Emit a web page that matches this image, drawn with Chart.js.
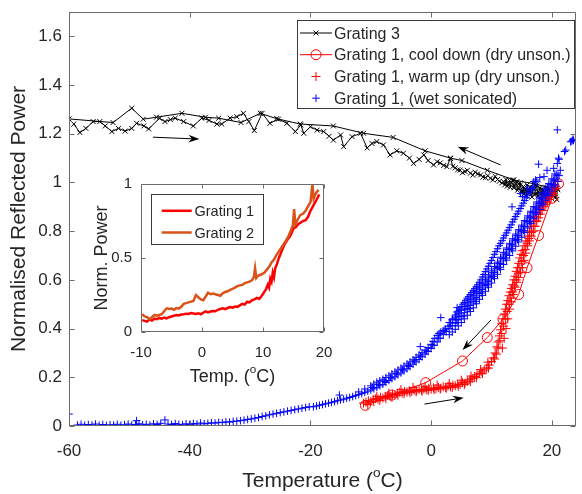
<!DOCTYPE html>
<html>
<head>
<meta charset="utf-8">
<script src="https://cdn.jsdelivr.net/npm/chart.js@4.4.1/dist/chart.umd.min.js"></script>
<style>
  html, body { margin: 0; padding: 0; background: #fff; }
  #wrap { position: relative; width: 582px; height: 494px; overflow: hidden; }
  #main { position: absolute; left: 0; top: 0; }
  #inset { position: absolute; left: 80px; top: 170px; }
</style>
</head>
<body>
<div id="wrap">
  <canvas id="main" width="582" height="494"></canvas>
  <canvas id="inset" width="260" height="225"></canvas>
</div>
<script>
// Tick values
const xTicks = [-60, -40, -20, 0, 20];
const yTicks = [0, 0.2, 0.4, 0.6, 0.8, 1, 1.2, 1.4, 1.6];
const insetXTicks = [-10, 0, 10, 20];
const insetYTicks = [0, 0.5, 1];

const seriesLabels = ['Grating 3', 'Grating 1, cool down (dry unson.)', 'Grating 1, warm up (dry unson.)', 'Grating 1, (wet sonicated)'];
const insetLabels = ['Grating 1', 'Grating 2'];

// Grating 3: warm up (noisy) then cool down back to -60
const grating3 = [
  [-59.2,1.240],[-58.2,1.205],[-57.2,1.222],[-56.0,1.250],[-54.9,1.250],[-54.0,1.232],[-52.9,1.209],[-51.8,1.222],
  [-50.7,1.211],[-49.6,1.222],[-48.8,1.243],[-47.6,1.232],[-46.8,1.220],[-45.0,1.264],[-44.1,1.250],[-43.2,1.258],
  [-42.4,1.264],[-41.0,1.250],[-39.4,1.232],[-38.0,1.264],[-36.8,1.255],[-35.5,1.240],[-34.7,1.240],[-33.3,1.264],
  [-32.2,1.270],[-31.1,1.284],[-30.2,1.250],[-29.3,1.213],[-28.0,1.284],[-26.7,1.243],[-25.3,1.260],[-23.9,1.243],
  [-22.5,1.209],[-21.6,1.236],[-21.1,1.202],[-20.0,1.229],[-18.9,1.215],[-17.8,1.209],[-16.9,1.190],[-16.2,1.174],
  [-15.0,1.195],[-14.5,1.147],[-13.1,1.188],[-11.7,1.202],[-10.6,1.142],[-9.8,1.160],[-9.0,1.168],[-7.9,1.154],
  [-6.8,1.113],[-5.7,1.130],[-4.6,1.120],[-3.6,1.100],[-2.9,1.078],[-2.0,1.095],[-1.2,1.113],[-0.5,1.090],
  [0.4,1.072],[1.0,1.085],[1.5,1.080],[2.1,1.070],[2.6,1.065],[3.2,1.099],[3.6,1.066],[4.0,1.060],
  [4.4,1.052],[4.8,1.051],[5.2,1.040],[5.6,1.045],[6.0,1.050],[6.5,1.038],[6.9,1.030],[7.3,1.042],
  [7.7,1.035],[8.2,1.031],[8.6,1.022],[9.0,1.020],[9.4,1.028],[9.8,1.017],[10.2,1.010],[10.6,1.025],
  [11.0,1.012],[11.3,1.005],[11.7,0.998],[12.0,1.003],[12.2,0.990],[12.4,1.012],[12.6,0.985],[12.8,0.995],
  [13.0,1.008],[13.1,0.980],[13.3,1.000],[13.5,1.010],[13.7,0.978],[13.8,0.985],[14.0,0.995],[14.2,1.003],
  [14.3,0.968],[14.5,0.975],[14.7,0.998],[14.8,0.990],[15.0,0.960],[15.1,0.965],[15.3,0.983],[15.4,0.952],
  [15.6,0.972],[15.8,0.945],[15.9,0.990],[16.1,0.970],[16.2,0.958],[16.4,0.982],[16.5,0.962],[16.7,0.940],
  [16.8,0.978],[17.0,0.975],[17.1,0.950],[17.3,0.952],[17.4,0.990],[17.5,0.985],[17.7,0.945],[17.8,0.962],
  [18.0,0.978],[18.1,0.955],[18.3,0.935],[18.4,0.972],[18.6,0.970],[18.7,0.945],[18.9,0.948],[19.0,0.980],
  [19.2,0.969],[19.3,0.940],[19.5,0.958],[19.6,0.975],[19.7,0.950],[19.9,0.935],[20.0,0.965],[20.2,0.948],
  [20.3,0.955],[20.5,0.970],[20.6,0.940],[20.8,0.930],[20.9,0.976],
  [21.0,0.970],[17.0,0.995],[13.7,1.010],[9.3,1.050],[5.1,1.090],[3.2,1.100],[-1.0,1.130],[-6.3,1.185],
  [-11.2,1.202],[-16.2,1.232],[-21.7,1.240],[-25.6,1.262],[-28.3,1.284],[-31.5,1.246],[-35.2,1.264],[-37.4,1.268],
  [-41.3,1.284],[-45.5,1.268],[-47.7,1.260],[-49.6,1.305],[-52.7,1.246],[-60.0,1.261]
];

// Grating 1 cool down (circles + line)
const coolDown = [
  [21.1,0.995],[20.0,0.935],[17.8,0.782],[15.9,0.650],[14.5,0.540],[11.9,0.438],
  [9.3,0.363],[5.2,0.267],[-0.9,0.178],[-6.5,0.127],[-10.9,0.085]
];

// Grating 1 warm up (plus markers)
const warmUp = [
  [-11.2,0.094],[-10.8,0.098],[-10.4,0.104],[-10.0,0.100],[-9.6,0.108],[-9.2,0.112],[-8.8,0.110],[-8.4,0.118],
  [-8.0,0.115],[-7.6,0.121],[-7.2,0.125],[-6.8,0.122],[-6.4,0.130],[-6.0,0.128],[-5.6,0.134],[-5.2,0.139],
  [-4.8,0.136],[-4.4,0.142],[-4.0,0.139],[-3.6,0.145],[-3.2,0.142],[-2.8,0.148],[-2.4,0.145],[-2.0,0.150],
  [-1.6,0.147],[-1.2,0.152],[-0.8,0.149],[-0.4,0.155],[0.0,0.151],[0.4,0.156],[0.8,0.153],[1.2,0.158],
  [1.6,0.155],[2.0,0.161],[2.4,0.158],[2.8,0.164],[3.2,0.161],[3.6,0.168],[4.0,0.165],[4.4,0.172],
  [4.8,0.170],[5.2,0.178],[5.6,0.176],[6.0,0.184],[6.4,0.190],[6.8,0.196],[7.2,0.203],[7.6,0.210],
  [8.0,0.216],[8.4,0.222],[8.8,0.230],[9.2,0.238],[9.6,0.250],[10.0,0.265],[10.3,0.280],[10.6,0.300],
  [10.9,0.325],[11.1,0.345],[11.3,0.370],[11.5,0.395],[11.7,0.420],[11.9,0.440],[12.1,0.460],[12.3,0.480],
  [12.5,0.500],[12.7,0.515],[12.9,0.535],[13.1,0.550],[13.3,0.565],[13.5,0.580],[13.7,0.600],[13.9,0.615],
  [14.1,0.635],[14.3,0.650],[14.5,0.668],[14.7,0.690],[14.9,0.705],[15.1,0.720],[15.4,0.740],[15.7,0.760],
  [16.0,0.780],[16.3,0.800],[16.6,0.820],[16.9,0.840],[17.2,0.860],[17.5,0.875],[17.8,0.890],[18.1,0.905],
  [18.4,0.915],[18.7,0.925],[19.0,0.935],[19.3,0.945],[19.6,0.955],[19.9,0.965],[20.2,0.980],[20.5,0.990],
  [20.9,1.005],
  [-9.0,0.122],[-7.0,0.135],[-5.0,0.150],[-3.0,0.158],[-1.0,0.163],[1.0,0.168],[3.0,0.175],[5.0,0.188],
  [6.6,0.205],[8.2,0.232],[9.4,0.262],
  [-10.5,0.088],[-9.5,0.100],[-8.5,0.105],[-7.5,0.112],[-6.5,0.118],[-5.5,0.126],[-4.5,0.132],[-3.5,0.137],
  [-2.5,0.140],[-1.5,0.143],[-0.5,0.146],[0.5,0.149],[1.5,0.152],[2.5,0.155],[3.5,0.158],[4.5,0.163],
  [5.5,0.170],[6.5,0.182],[7.5,0.198],[8.5,0.215],[9.5,0.238],
  [10.5,0.275],[10.8,0.295],[11.1,0.320],[11.4,0.350],[11.7,0.380],[12.0,0.410],[12.3,0.440],[12.6,0.470],
  [12.9,0.500],[13.2,0.525],[13.5,0.550],[13.8,0.575],[14.1,0.600],[14.4,0.625],[14.7,0.650],[15.0,0.675],
  [15.3,0.700],[15.6,0.725],[15.9,0.750],[16.2,0.770],[16.6,0.795],[17.0,0.820],[17.4,0.845],[17.8,0.870],
  [18.2,0.890],[18.6,0.910],[19.0,0.925],[19.4,0.940],[19.8,0.955],[20.2,0.970],[20.6,0.985],
  [11.8,0.320],[12.1,0.360],[12.4,0.400],[12.7,0.440],[13.0,0.480],[13.3,0.510],[13.6,0.540],[13.9,0.570],
  [14.2,0.590],[14.5,0.610],[14.8,0.630],[15.1,0.650],[15.4,0.680],[15.7,0.710],[16.0,0.740],[16.3,0.760],
  [16.6,0.780],[16.9,0.800],[17.2,0.820],[17.5,0.840],[17.8,0.855],[18.1,0.870],[18.4,0.885],[18.7,0.900],
  [19.0,0.910],[19.3,0.920],[19.6,0.930],[19.9,0.945],[20.2,0.955],[20.5,0.970]
];

// Grating 1 wet sonicated (plus markers)
const wetSonicated = [
  [-60.0,0.049],
  [-58.6,0.004],[-58.0,0.007],[-57.4,0.003],[-56.8,0.006],[-56.2,0.004],[-55.6,0.008],[-55.0,0.003],[-54.4,0.006],
  [-53.8,0.002],[-53.2,0.005],[-52.6,0.004],[-52.0,0.007],[-51.4,0.003],[-50.8,0.005],[-50.2,0.008],[-49.6,0.004],
  [-49.0,0.006],[-48.8,0.022],[-48.4,0.009],[-47.8,0.005],[-47.2,0.007],[-46.6,0.004],[-46.0,0.009],[-45.4,0.006],
  [-44.8,0.011],[-44.1,0.025],[-43.6,0.008],[-43.0,0.006],[-42.4,0.010],[-41.8,0.007],[-41.2,0.005],[-40.6,0.009],
  [-40.0,0.006],[-39.4,0.010],[-38.8,0.008],[-38.2,0.012],[-37.6,0.009],[-37.0,0.011],[-36.4,0.013],[-35.8,0.012],
  [-35.2,0.015],[-34.6,0.014],[-34.0,0.017],[-33.4,0.016],[-32.8,0.019],[-32.2,0.020],[-31.6,0.022],[-31.0,0.024],
  [-30.4,0.027],[-29.8,0.029],[-29.2,0.032],[-28.6,0.035],[-28.0,0.039],[-27.4,0.042],[-26.8,0.046],[-26.2,0.049],
  [-25.6,0.052],[-25.0,0.055],[-24.4,0.058],[-23.8,0.061],[-23.2,0.064],[-22.6,0.067],[-22.0,0.070],[-21.4,0.073],
  [-20.8,0.076],[-20.2,0.079],
  [-19.5,0.079],[-19.0,0.082],[-18.5,0.085],[-18.0,0.088],[-17.5,0.091],[-17.0,0.094],[-16.5,0.097],[-16.0,0.100],
  [-15.5,0.104],[-15.0,0.107],[-14.5,0.110],[-14.0,0.114],[-13.5,0.117],[-13.0,0.121],[-12.5,0.125],[-12.0,0.129],
  [-11.5,0.133],[-11.0,0.138],[-10.5,0.143],[-10.0,0.148],[-9.5,0.153],[-9.0,0.159],[-8.5,0.165],[-8.0,0.171],
  [-7.5,0.179],[-7.0,0.187],[-6.5,0.194],[-6.0,0.202],[-5.5,0.210],[-5.0,0.218],[-4.5,0.226],[-4.0,0.235],
  [-3.5,0.244],[-3.0,0.254],[-2.5,0.263],[-2.0,0.273],[-1.5,0.284],[-1.0,0.295],[-0.5,0.306],[0.0,0.318],
  [0.5,0.331],[1.0,0.345],[1.5,0.360],[2.0,0.375],[2.5,0.388],[3.0,0.400],[3.5,0.411],[4.0,0.422],
  [4.5,0.436],[5.0,0.450],[5.5,0.465],[6.0,0.480],[6.5,0.495],[7.0,0.510],[7.5,0.527],[8.0,0.545],
  [8.5,0.561],[9.0,0.578],[9.5,0.595],[10.0,0.612],[10.5,0.630],[11.0,0.648],[11.5,0.668],[12.0,0.688],
  [12.5,0.706],[13.0,0.725],[13.5,0.744],[14.0,0.763],[14.5,0.781],[15.0,0.800],[15.5,0.819],[16.0,0.838],
  [16.5,0.857],[17.0,0.876],[17.5,0.895],[18.0,0.914],[18.5,0.933],[19.0,0.952],[19.5,0.971],[20.0,0.990],
  [20.5,1.010],[21.0,1.030],[21.4,1.050],
  [4.3,0.425],[5.3,0.452],[6.3,0.482],[7.3,0.512],[8.3,0.546],[9.3,0.580],[10.3,0.615],[11.3,0.652],
  [12.3,0.690],[13.3,0.728],[14.3,0.765],[15.3,0.803],[16.3,0.840],[17.3,0.878],[18.3,0.916],[19.3,0.954],
  [20.3,0.992],[21.2,1.028],
  [-9.75,0.158],[-8.75,0.170],[-7.75,0.183],[-6.75,0.199],[-5.75,0.214],[-4.75,0.231],[-3.75,0.248],[-2.75,0.267],
  [-1.75,0.287],[-0.75,0.308],[0.25,0.332],[1.25,0.361],[2.25,0.390],[3.25,0.413],[4.25,0.437],[4.75,0.450],
  [5.75,0.480],[6.25,0.496],[6.75,0.511],[7.25,0.526],[7.75,0.544],[8.25,0.561],[8.75,0.578],[9.25,0.595],
  [9.75,0.612],[10.25,0.630],[10.75,0.648],[11.25,0.667],[11.75,0.687],[12.25,0.706],[12.75,0.725],[13.25,0.744],
  [13.75,0.763],[14.25,0.782],[14.75,0.801],[15.25,0.820],[15.75,0.839],[16.25,0.858],[16.75,0.877],[17.25,0.896],
  [17.75,0.915],[18.25,0.934],[18.75,0.953],[19.25,0.972],[19.75,0.991],[20.25,1.010],[20.75,1.030],
  // upper and lower edges of the thick band
  [3.0,0.425],[3.5,0.436],[4.0,0.447],[4.5,0.461],[5.0,0.475],[5.5,0.490],[6.0,0.505],[6.5,0.520],
  [7.0,0.535],[7.5,0.552],[8.0,0.570],[8.5,0.586],[9.0,0.603],[9.5,0.620],[10.0,0.637],[10.5,0.655],
  [11.0,0.673],[11.5,0.693],[12.0,0.713],[12.5,0.731],[13.0,0.750],[13.5,0.769],[14.0,0.788],[14.5,0.806],
  [15.0,0.825],[15.5,0.844],[16.0,0.863],[16.5,0.882],[17.0,0.901],[17.5,0.920],[18.0,0.939],[18.5,0.958],
  [19.0,0.977],[19.5,0.996],[20.0,1.015],[20.5,1.035],
  [3.0,0.375],[3.5,0.386],[4.0,0.397],[4.5,0.411],[5.0,0.425],[5.5,0.440],[6.0,0.455],[6.5,0.470],
  [7.0,0.485],[7.5,0.502],[8.0,0.520],[8.5,0.536],[9.0,0.553],[9.5,0.570],[10.0,0.587],[10.5,0.605],
  [11.0,0.623],[11.5,0.643],[12.0,0.663],[12.5,0.681],[13.0,0.700],[13.5,0.719],[14.0,0.738],[14.5,0.756],
  [15.0,0.775],[15.5,0.794],[16.0,0.813],[16.5,0.832],[17.0,0.851],[17.5,0.870],[18.0,0.889],[18.5,0.908],
  [19.0,0.927],[19.5,0.946],[20.0,0.965],[20.5,0.985],[21.0,1.005],
  [-12.0,0.140],[-11.0,0.152],[-10.0,0.165],[-9.0,0.180],[-8.0,0.192],[-7.0,0.206],[-6.0,0.222],[-5.0,0.238],
  [-4.0,0.255],[-3.0,0.272],[-2.5,0.282],[-2.0,0.292],[-1.5,0.301],[-1.0,0.312],[-0.5,0.322],[0.0,0.335],
  [0.3,0.348],[0.6,0.360],[1.0,0.372],[1.3,0.380],[1.6,0.386],[2.0,0.392],[2.4,0.398],[2.8,0.410],
  [3.2,0.425],[3.6,0.440],[4.0,0.456],[4.5,0.472],[5.0,0.490],[5.5,0.507],[6.0,0.525],[6.5,0.540],
  [7.0,0.556],[7.5,0.572],[8.0,0.590],[8.5,0.612],[9.0,0.634],[9.5,0.656],[10.0,0.680],[10.5,0.705],
  [11.0,0.728],[11.5,0.750],[12.0,0.772],[12.5,0.793],[13.0,0.815],[13.5,0.838],[14.0,0.860],[14.5,0.882],
  [15.0,0.904],[15.5,0.926],[16.0,0.948],[16.5,0.968],[17.0,0.985],[17.5,1.003],[18.0,1.020],
  [-9.5,0.172],[-8.5,0.186],[-7.5,0.199],[-6.5,0.214],[-5.5,0.230],[-4.5,0.246],[-3.5,0.263],
  [4.25,0.468],[4.75,0.480],[5.25,0.500],[5.75,0.516],[6.25,0.532],[6.75,0.548],[7.25,0.564],[7.75,0.580],
  [8.25,0.600],[8.75,0.622],[9.25,0.645],[9.75,0.668],[10.25,0.692],[10.75,0.716],[11.25,0.740],[11.75,0.761],
  [12.25,0.783],[12.75,0.804],[13.25,0.826],[13.75,0.849],[14.25,0.871],[14.75,0.893],[15.25,0.915],[15.75,0.937],
  [16.25,0.958],[16.75,0.976],
  [-15.2,0.127],[-1.8,0.326],[1.6,0.445],[4.3,0.486],
  [13.4,0.900],[14.8,0.955],[15.1,0.942],[15.9,0.976],[17.0,1.003],[17.3,1.010],[17.8,1.075],[18.7,1.024],
  [19.2,1.050],[20.3,1.058],[20.9,1.078],[21.1,1.100],[21.2,1.095],[22.1,1.127],[22.3,1.133],[23.1,1.167],
  [23.3,1.170],[23.5,1.174],[23.5,1.178],[23.6,1.172],[20.9,1.216]
];

// Inset traces
const insetGrating1 = [
  [-9.8,0.080],[-9.4,0.075],[-9.0,0.070],[-8.6,0.085],[-8.2,0.078],[-7.8,0.090],[-7.4,0.087],[-7.0,0.095],
  [-6.6,0.090],[-6.2,0.098],[-5.8,0.092],[-5.4,0.100],[-5.0,0.105],[-4.6,0.110],[-4.2,0.115],[-3.8,0.112],
  [-3.4,0.118],[-3.0,0.120],[-2.6,0.124],[-2.2,0.122],[-1.8,0.128],[-1.4,0.125],[-1.0,0.122],[-0.6,0.127],
  [-0.2,0.120],[0.2,0.130],[0.6,0.140],[1.0,0.133],[1.4,0.138],[1.8,0.142],[2.2,0.140],[2.6,0.150],
  [3.0,0.155],[3.4,0.160],[3.8,0.155],[4.2,0.162],[4.6,0.168],[5.0,0.165],[5.4,0.172],[5.8,0.170],
  [6.2,0.180],[6.6,0.190],[7.0,0.185],[7.4,0.205],[7.8,0.200],[8.2,0.215],[8.6,0.220],[9.0,0.230],
  [9.4,0.225],[9.8,0.245],[10.2,0.270],[10.5,0.290],[10.8,0.320],[11.0,0.300],[11.2,0.360],[11.4,0.340],
  [11.6,0.400],[11.8,0.370],[12.0,0.430],[12.3,0.460],[12.6,0.500],[12.9,0.530],[13.2,0.560],[13.5,0.590],
  [13.8,0.610],[14.1,0.630],[14.4,0.645],[14.7,0.670],[15.0,0.700],[15.4,0.710],[15.8,0.730],[16.2,0.740],
  [16.6,0.750],[17.0,0.755],[17.4,0.780],[17.8,0.820],[18.2,0.850],[18.6,0.880],[19.0,0.910],[19.2,0.930]
];
const insetGrating2 = [
  [-9.8,0.120],[-9.4,0.105],[-9.0,0.100],[-8.6,0.085],[-8.2,0.100],[-7.8,0.115],[-7.4,0.110],[-7.0,0.115],
  [-6.6,0.120],[-6.2,0.140],[-5.8,0.160],[-5.4,0.155],[-5.0,0.158],[-4.6,0.150],[-4.2,0.162],[-3.8,0.158],
  [-3.4,0.170],[-3.0,0.190],[-2.6,0.195],[-2.2,0.200],[-1.8,0.205],[-1.4,0.210],[-1.0,0.250],[-0.6,0.235],
  [-0.2,0.220],[0.2,0.215],[0.6,0.240],[1.0,0.265],[1.4,0.255],[1.8,0.260],[2.2,0.255],[2.6,0.250],
  [3.0,0.245],[3.4,0.262],[3.8,0.270],[4.2,0.275],[4.6,0.285],[5.0,0.292],[5.4,0.300],[5.8,0.310],
  [6.2,0.315],[6.6,0.318],[7.0,0.330],[7.4,0.335],[7.8,0.340],[8.2,0.350],[8.5,0.370],[8.7,0.430],
  [8.9,0.365],[9.2,0.380],[9.5,0.385],[9.8,0.390],[10.2,0.400],[10.6,0.420],[11.0,0.440],[11.4,0.470],
  [11.8,0.490],[12.2,0.520],[12.6,0.545],[13.0,0.570],[13.4,0.595],[13.8,0.620],[14.2,0.650],[14.6,0.690],
  [14.9,0.720],[15.1,0.830],[15.3,0.730],[15.7,0.760],[16.1,0.790],[16.6,0.800],[17.0,0.820],[17.4,0.850],
  [17.8,0.880],[18.1,1.000],[18.3,0.900],[18.7,0.940],[19.1,0.960]
];

// Annotation arrows [fromX, fromY, toX, toY] in data units
const arrows = [[-46.1,1.186,-38.4,1.178],[11.5,1.072,4.4,1.147],[9.9,0.435,5.2,0.312],[-1.1,0.09,5.4,0.116]];

const FONT = "'Liberation Sans', Arial, sans-serif";
const TEXT = '#262626';
const AXIS = '#6a6a6a';

const pts = a => a.map(([x, y]) => ({ x, y }));
const fixedTicks = values => scale => { scale.ticks = values.map(v => ({ value: v })); };
const fmt = v => String(Math.round(v * 10) / 10);

// frame with inward ticks on all four sides
const boxPlugin = {
  id: 'box',
  afterDraw(chart, args, o) {
    const { ctx, chartArea: a, scales: { x, y } } = chart;
    const L = Math.round(a.left) + 0.5, R = Math.round(a.right) - 0.5;
    const T = Math.round(a.top) + 0.5, B = Math.round(a.bottom) - 0.5;
    ctx.save();
    ctx.strokeStyle = AXIS;
    ctx.lineWidth = 1;
    ctx.beginPath();
    ctx.rect(L, T, R - L, B - T);
    x.ticks.forEach(t => {
      const p = Math.round(x.getPixelForValue(t.value)) + 0.5;
      ctx.moveTo(p, B); ctx.lineTo(p, B - o.len);
      ctx.moveTo(p, T); ctx.lineTo(p, T + o.len);
    });
    y.ticks.forEach(t => {
      const p = Math.round(y.getPixelForValue(t.value)) + 0.5;
      ctx.moveTo(L, p); ctx.lineTo(L + o.len, p);
      ctx.moveTo(R, p); ctx.lineTo(R - o.len, p);
    });
    ctx.stroke();
    ctx.restore();
  }
};

// text with optional superscript parts, optionally rotated
function drawParts(ctx, parts, size, x, y, rotate) {
  ctx.save();
  ctx.translate(x, y);
  if (rotate) ctx.rotate(-Math.PI / 2);
  ctx.fillStyle = TEXT;
  ctx.textBaseline = 'alphabetic';
  ctx.textAlign = 'left';
  const w = parts.map(p => { ctx.font = `${p.sup ? size * 0.65 : size}px ${FONT}`; return ctx.measureText(p.t).width; });
  let cx = -w.reduce((s, v) => s + v, 0) / 2;
  parts.forEach((p, i) => {
    ctx.font = `${p.sup ? size * 0.65 : size}px ${FONT}`;
    ctx.fillText(p.t, cx, p.sup ? -size * 0.45 : 0);
    cx += w[i];
  });
  ctx.restore();
}

const titlePlugin = {
  id: 'titles',
  afterDraw(chart, args, o) {
    const a = chart.chartArea;
    drawParts(chart.ctx, o.x, o.size, (a.left + a.right) / 2, o.xBase, false);
    drawParts(chart.ctx, o.y, o.size, o.yBase, (a.top + a.bottom) / 2, true);
  }
};

const keyPlugin = {
  id: 'key',
  afterDraw(chart, args, o) {
    const { ctx } = chart;
    const [bx, by, bw, bh] = o.box;
    ctx.save();
    ctx.fillStyle = '#fff';
    ctx.fillRect(bx, by, bw, bh);
    ctx.strokeStyle = '#3a3a3a';
    ctx.lineWidth = 1;
    ctx.strokeRect(bx + 0.5, by + 0.5, bw, bh);
    const mid = (o.line[0] + o.line[1]) / 2;
    chart.data.datasets.forEach((ds, i) => {
      const y = o.rows[i];
      if (ds.showLine) {
        ctx.strokeStyle = ds.borderColor;
        ctx.lineWidth = ds.borderWidth;
        ctx.beginPath();
        ctx.moveTo(o.line[0], y); ctx.lineTo(o.line[1], y);
        ctx.stroke();
      }
      if (ds.pointRadius > 0) {
        ctx.strokeStyle = ds.pointBorderColor;
        ctx.fillStyle = 'rgba(0,0,0,0)';
        ctx.lineWidth = ds.pointBorderWidth;
        Chart.helpers.drawPoint(ctx, { pointStyle: ds.pointStyle, radius: ds.pointRadius, borderWidth: ds.pointBorderWidth, rotation: 0 }, mid, y);
      }
      ctx.fillStyle = TEXT;
      ctx.font = `${o.size}px ${FONT}`;
      ctx.textBaseline = 'alphabetic';
      ctx.textAlign = 'left';
      ctx.fillText(ds.label, o.textX, y + o.size * 0.358);
    });
    ctx.restore();
  }
};

const arrowPlugin = {
  id: 'arrows',
  afterDatasetsDraw(chart) {
    const { ctx, scales: { x, y } } = chart;
    ctx.save();
    ctx.strokeStyle = '#000';
    ctx.fillStyle = '#000';
    ctx.lineWidth = 1;
    arrows.forEach(([x0, y0, x1, y1]) => {
      const ax = x.getPixelForValue(x0), ay = y.getPixelForValue(y0);
      const bx = x.getPixelForValue(x1), by = y.getPixelForValue(y1);
      const ang = Math.atan2(by - ay, bx - ax);
      const c = Math.cos(ang), s = Math.sin(ang);
      ctx.beginPath(); ctx.moveTo(ax, ay); ctx.lineTo(bx - 6 * c, by - 6 * s); ctx.stroke();
      ctx.beginPath();
      ctx.moveTo(bx, by);
      ctx.lineTo(bx - 11 * c + 3.8 * s, by - 11 * s - 3.8 * c);
      ctx.lineTo(bx - 7.5 * c, by - 7.5 * s);
      ctx.lineTo(bx - 11 * c - 3.8 * s, by - 11 * s + 3.8 * c);
      ctx.closePath();
      ctx.fill();
    });
    ctx.restore();
  }
};

// fixed-size axis with no extra label padding, so the plot box lands where the figure has it
function axis(min, max, ticks, size, pad, fit) {
  return {
    type: 'linear', min, max,
    afterBuildTicks: fixedTicks(ticks),
    afterFit: s => { fit(s); s.paddingLeft = s.paddingRight = s.paddingTop = s.paddingBottom = 0; },
    grid: { display: false, drawTicks: false },
    border: { display: false },
    ticks: { padding: pad, color: TEXT, font: { family: FONT, size }, maxRotation: 0, autoSkip: false, callback: fmt }
  };
}

new Chart(document.getElementById('main'), {
  type: 'scatter',
  data: {
    datasets: [
      { label: seriesLabels[0], data: pts(grating3), showLine: true, borderColor: '#000', borderWidth: 1,
        pointStyle: 'crossRot', pointRadius: 3.5, pointBorderColor: '#000', pointBorderWidth: 1, order: 4 },
      { label: seriesLabels[1], data: pts(coolDown), showLine: true, borderColor: '#ff0000', borderWidth: 1,
        pointStyle: 'circle', pointRadius: 5, pointBorderColor: '#ff0000', pointBackgroundColor: 'rgba(0,0,0,0)', pointBorderWidth: 1, order: 3 },
      { label: seriesLabels[2], data: pts(warmUp), showLine: false, borderColor: '#ff0000',
        pointStyle: 'cross', pointRadius: 4.5, pointBorderColor: '#ff0000', pointBorderWidth: 1, order: 2 },
      { label: seriesLabels[3], data: pts(wetSonicated), showLine: false, borderColor: '#0000ff',
        pointStyle: 'cross', pointRadius: 3.8, pointBorderColor: '#0000ff', pointBorderWidth: 1, order: 1 }
    ]
  },
  options: {
    responsive: false,
    animation: false,
    layout: { padding: { top: 12, right: 5, left: 0, bottom: 0 } },
    scales: {
      x: axis(-60, 24, xTicks, 17, 15, s => { s.height = 68; }),
      y: axis(0, 1.7, yTicks, 17, 7, s => { s.width = 69; })
    },
    plugins: {
      legend: { display: false },
      tooltip: { enabled: false },
      box: { len: 5 },
      titles: {
        size: 21, xBase: 486.5, yBase: 25,
        x: [{ t: 'Temperature (' }, { t: 'o', sup: true }, { t: 'C)' }],
        y: [{ t: 'Normalised Reflected Power' }]
      },
      key: { box: [297, 20, 277, 88], line: [300, 332], textX: 334, rows: [33, 54.7, 76.5, 98.2], size: 16 }
    }
  },
  plugins: [arrowPlugin, boxPlugin, titlePlugin, keyPlugin]
});

new Chart(document.getElementById('inset'), {
  type: 'scatter',
  data: {
    datasets: [
      { label: insetLabels[0], data: pts(insetGrating1), showLine: true, borderColor: '#ff0000', borderWidth: 2.5, pointRadius: 0, order: 2 },
      { label: insetLabels[1], data: pts(insetGrating2), showLine: true, borderColor: '#d95319', borderWidth: 2.5, pointRadius: 0, order: 1 }
    ]
  },
  options: {
    responsive: false,
    animation: false,
    layout: { padding: { top: 14, right: 16, left: 0, bottom: 0 } },
    scales: {
      x: axis(-10, 20, insetXTicks, 15, 12, s => { s.height = 63; }),
      y: axis(0, 1, insetYTicks, 15, 9, s => { s.width = 61; })
    },
    plugins: {
      legend: { display: false },
      tooltip: { enabled: false },
      box: { len: 4 },
      titles: {
        size: 18, xBase: 211.5, yBase: 26.5,
        x: [{ t: 'Temp. (' }, { t: 'o', sup: true }, { t: 'C)' }],
        y: [{ t: 'Norm. Power' }]
      },
      key: { box: [71, 24, 112, 50], line: [81.7, 111.7], textX: 114.5, rows: [40.8, 62.5], size: 14.5 }
    }
  },
  plugins: [boxPlugin, titlePlugin, keyPlugin]
});
</script>
</body>
</html>
